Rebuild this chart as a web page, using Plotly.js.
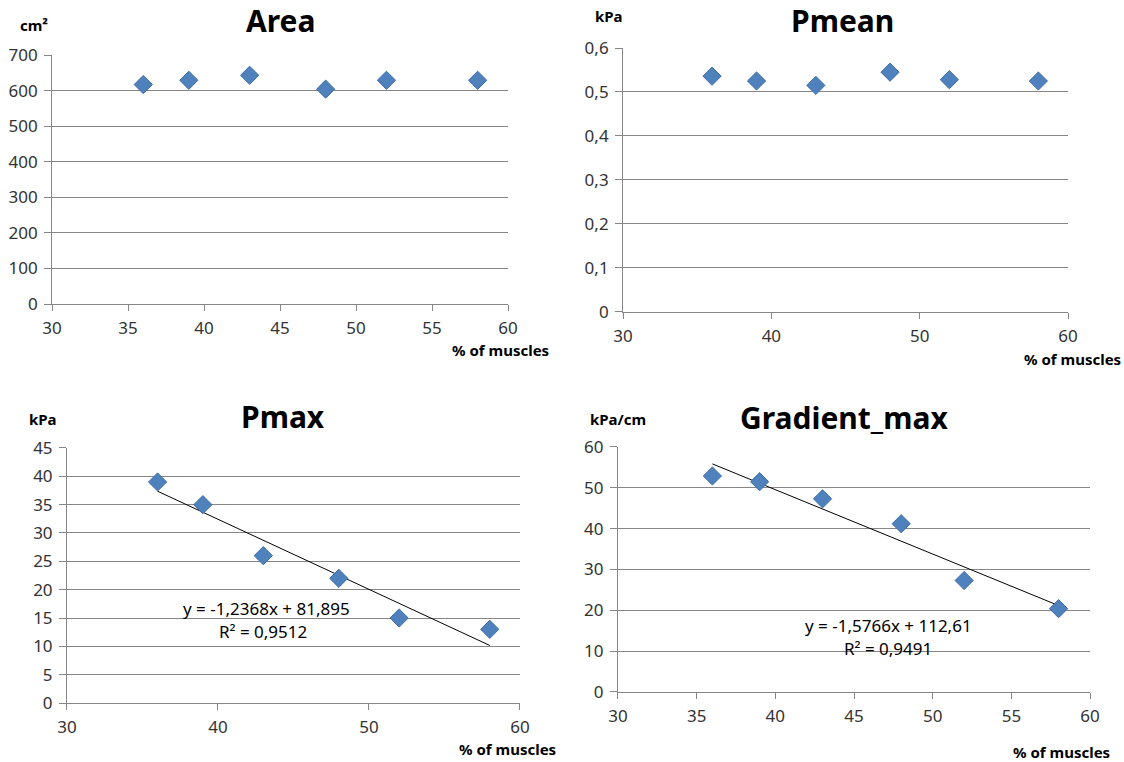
<!DOCTYPE html>
<html><head><meta charset="utf-8">
<script src="https://cdn.plot.ly/plotly-3.0.1.min.js"></script>
<style>html,body{margin:0;padding:0;background:#fff}#chart{width:1124px;height:762px}</style>
</head><body><div id="chart"></div>
<script>
const muscles = [36, 39, 43, 48, 52, 58];
const area = [617, 629, 643, 604, 629, 629];
const pmean = [0.536, 0.525, 0.515, 0.545, 0.528, 0.525];
const pmax = [39, 35, 26, 22, 15, 13];
const gradientMax = [52.9, 51.5, 47.3, 41.2, 27.3, 20.4];
const pmaxFit = {slope: -1.2368, intercept: 81.895, r2: '0,9512'};
const gradFit = {slope: -1.5766, intercept: 112.61, r2: '0,9491'};
const titles = ['Area', 'Pmean', 'Pmax', 'Gradient_max'];
const units = ['cm²', 'kPa', 'kPa', 'kPa/cm'];
const xLabel = '% of muscles';

const FONT = 'Noto Sans, sans-serif';
const GRID = '#868686';
const markerStyle = {symbol: 'diamond', size: 14, color: '#4F81BD', line: {color: '#3C6EA8', width: 1}};

function pts(x, y, n) {
  return {x: x, y: y, type: 'scatter', mode: 'markers', marker: markerStyle,
    xaxis: 'x' + (n === 1 ? '' : n), yaxis: 'y' + (n === 1 ? '' : n), showlegend: false, hoverinfo: 'x+y'};
}
function trend(fit, n) {
  const xs = [muscles[0], muscles[muscles.length - 1]];
  return {x: xs, y: xs.map(v => fit.slope * v + fit.intercept), type: 'scatter', mode: 'lines',
    line: {color: '#000000', width: 1}, xaxis: 'x' + n, yaxis: 'y' + n, showlegend: false, hoverinfo: 'skip'};
}

const data = [
  pts(muscles, area, 1),
  pts(muscles, pmean, 2),
  trend(pmaxFit, 3),
  pts(muscles, pmax, 3),
  trend(gradFit, 4),
  pts(muscles, gradientMax, 4)
];

function xax(domain, dtick, anchor) {
  return {domain: domain, range: [30, 60], dtick: dtick, tick0: 30, anchor: anchor,
    showgrid: false, zeroline: false, showline: true, linecolor: GRID, linewidth: 1,
    ticks: 'outside', ticklen: 6, tickcolor: GRID, ticklabelstandoff: 3,
    tickfont: {family: FONT, size: 17, color: '#333333'}, fixedrange: true};
}
function yax(domain, range, dtick, anchor) {
  return {domain: domain, range: range, dtick: dtick, tick0: 0, anchor: anchor,
    showgrid: true, gridcolor: GRID, gridwidth: 1, zeroline: false, showline: true, linecolor: GRID, linewidth: 1,
    ticks: 'outside', ticklen: 7, tickcolor: GRID, ticklabelstandoff: 3,
    tickfont: {family: FONT, size: 17, color: '#333333'}, fixedrange: true};
}

function txt(x, y, text, size, bold, xanchor) {
  return {xref: 'paper', yref: 'paper', x: x / 1124, y: 1 - y / 762, text: bold ? '<b>' + text + '</b>' : text,
    showarrow: false, xanchor: xanchor || 'center', yanchor: 'middle',
    font: {family: FONT, size: size, color: '#000000'}};
}

const layout = {
  width: 1124, height: 762,
  margin: {l: 0, r: 0, t: 0, b: 0},
  paper_bgcolor: '#ffffff', plot_bgcolor: '#ffffff',
  separators: ', ',
  showlegend: false,
  xaxis: xax([0.0463, 0.4520], 5, 'y'),
  yaxis: yax([0.6010, 0.9278], [0, 700], 100, 'x'),
  xaxis2: xax([0.5543, 0.9502], 10, 'y2'),
  yaxis2: yax([0.5906, 0.9370], [0, 0.6], 0.1, 'x2'),
  xaxis3: xax([0.0596, 0.4626], 10, 'y3'),
  yaxis3: yax([0.0774, 0.4121], [0, 45], 5, 'x3'),
  xaxis4: xax([0.5498, 0.9698], 5, 'y4'),
  yaxis4: yax([0.0919, 0.4134], [0, 60], 10, 'x4'),
  annotations: [
    txt(280, 21, titles[0], 30, true),
    txt(842, 21, titles[1], 30, true),
    txt(283, 416, titles[2], 30, true),
    txt(844, 418, titles[3], 30, true),
    txt(34, 25, units[0], 15, true),
    txt(609, 16, units[1], 15, true),
    txt(43, 419, units[2], 15, true),
    txt(618, 419, units[3], 15, true),
    txt(551, 350, xLabel, 15, true, 'right'),
    txt(1123, 359, xLabel, 15, true, 'right'),
    txt(558, 749, xLabel, 15, true, 'right'),
    txt(1112, 752, xLabel, 15, true, 'right'),
    txt(266, 608, 'y = -1,2368x + 81,895', 17, false),
    txt(263, 631, 'R² = ' + pmaxFit.r2, 17, false),
    txt(888, 625, 'y = -1,5766x + 112,61', 17, false),
    txt(888, 648, 'R² = ' + gradFit.r2, 17, false)
  ]
};

Plotly.newPlot('chart', data, layout, {displayModeBar: false, staticPlot: true});
</script></body></html>
